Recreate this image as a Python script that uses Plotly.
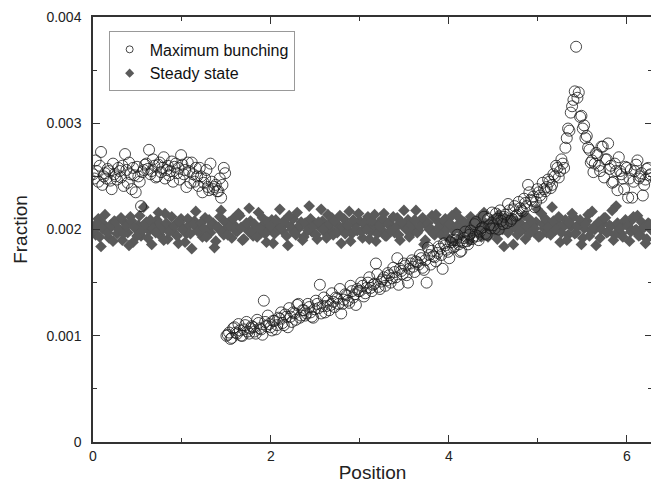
import plotly.graph_objects as go

SCALE = 1e-3  # values below are in units of 1e-3

# sampling positions (first pass)
position = [
    0.00, 0.03, 0.06, 0.09, 0.12, 0.15, 0.18, 0.21, 0.24, 0.27,
    0.30, 0.33, 0.36, 0.39, 0.42, 0.45, 0.48, 0.51, 0.54, 0.57,
    0.60, 0.63, 0.66, 0.69, 0.72, 0.75, 0.78, 0.81, 0.84, 0.87,
    0.90, 0.93, 0.96, 0.99, 1.02, 1.05, 1.08, 1.11, 1.14, 1.17,
    1.20, 1.23, 1.26, 1.29, 1.32, 1.35, 1.38, 1.41, 1.44, 1.47,
    1.50, 1.53, 1.56, 1.59, 1.62, 1.65, 1.68, 1.71, 1.74, 1.77,
    1.80, 1.83, 1.86, 1.89, 1.92, 1.95, 1.98, 2.01, 2.04, 2.07,
    2.10, 2.13, 2.16, 2.19, 2.22, 2.25, 2.28, 2.31, 2.34, 2.37,
    2.40, 2.43, 2.46, 2.49, 2.52, 2.55, 2.58, 2.61, 2.64, 2.67,
    2.70, 2.73, 2.76, 2.79, 2.82, 2.85, 2.88, 2.91, 2.94, 2.97,
    3.00, 3.03, 3.06, 3.09, 3.12, 3.15, 3.18, 3.21, 3.24, 3.27,
    3.30, 3.33, 3.36, 3.39, 3.42, 3.45, 3.48, 3.51, 3.54, 3.57,
    3.60, 3.63, 3.66, 3.69, 3.72, 3.75, 3.78, 3.81, 3.84, 3.87,
    3.90, 3.93, 3.96, 3.99, 4.02, 4.05, 4.08, 4.11, 4.14, 4.17,
    4.20, 4.23, 4.26, 4.29, 4.32, 4.35, 4.38, 4.41, 4.44, 4.47,
    4.50, 4.53, 4.56, 4.59, 4.62, 4.65, 4.68, 4.71, 4.74, 4.77,
    4.80, 4.83, 4.86, 4.89, 4.92, 4.95, 4.98, 5.01, 5.04, 5.07,
    5.10, 5.13, 5.16, 5.19, 5.22, 5.25, 5.28, 5.31, 5.34, 5.37,
    5.40, 5.43, 5.46, 5.49, 5.52, 5.55, 5.58, 5.61, 5.64, 5.67,
    5.70, 5.73, 5.76, 5.79, 5.82, 5.85, 5.88, 5.91, 5.94, 5.97,
    6.00, 6.03, 6.06, 6.09, 6.12, 6.15, 6.18, 6.21, 6.24, 6.27,
]

# sampling positions (second, interleaved pass)
position_b = [
    0.015, 0.045, 0.075, 0.105, 0.135, 0.165, 0.195, 0.225, 0.255, 0.285,
    0.315, 0.345, 0.375, 0.405, 0.435, 0.465, 0.495, 0.525, 0.555, 0.585,
    0.615, 0.645, 0.675, 0.705, 0.735, 0.765, 0.795, 0.825, 0.855, 0.885,
    0.915, 0.945, 0.975, 1.005, 1.035, 1.065, 1.095, 1.125, 1.155, 1.185,
    1.215, 1.245, 1.275, 1.305, 1.335, 1.365, 1.395, 1.425, 1.455, 1.485,
    1.515, 1.545, 1.575, 1.605, 1.635, 1.665, 1.695, 1.725, 1.755, 1.785,
    1.815, 1.845, 1.875, 1.905, 1.935, 1.965, 1.995, 2.025, 2.055, 2.085,
    2.115, 2.145, 2.175, 2.205, 2.235, 2.265, 2.295, 2.325, 2.355, 2.385,
    2.415, 2.445, 2.475, 2.505, 2.535, 2.565, 2.595, 2.625, 2.655, 2.685,
    2.715, 2.745, 2.775, 2.805, 2.835, 2.865, 2.895, 2.925, 2.955, 2.985,
    3.015, 3.045, 3.075, 3.105, 3.135, 3.165, 3.195, 3.225, 3.255, 3.285,
    3.315, 3.345, 3.375, 3.405, 3.435, 3.465, 3.495, 3.525, 3.555, 3.585,
    3.615, 3.645, 3.675, 3.705, 3.735, 3.765, 3.795, 3.825, 3.855, 3.885,
    3.915, 3.945, 3.975, 4.005, 4.035, 4.065, 4.095, 4.125, 4.155, 4.185,
    4.215, 4.245, 4.275, 4.305, 4.335, 4.365, 4.395, 4.425, 4.455, 4.485,
    4.515, 4.545, 4.575, 4.605, 4.635, 4.665, 4.695, 4.725, 4.755, 4.785,
    4.815, 4.845, 4.875, 4.905, 4.935, 4.965, 4.995, 5.025, 5.055, 5.085,
    5.115, 5.145, 5.175, 5.205, 5.235, 5.265, 5.295, 5.325, 5.355, 5.385,
    5.415, 5.445, 5.475, 5.505, 5.535, 5.565, 5.595, 5.625, 5.655, 5.685,
    5.715, 5.745, 5.775, 5.805, 5.835, 5.865, 5.895, 5.925, 5.955, 5.985,
    6.015, 6.045, 6.075, 6.105, 6.135, 6.165, 6.195, 6.225, 6.255,
]

max_bunching = [
    2.52, 2.65, 2.45, 2.73, 2.50, 2.48, 2.55, 2.38, 2.52, 2.47,
    2.55, 2.60, 2.71, 2.44, 2.52, 2.58, 2.35, 2.50, 2.22, 2.56,
    2.62, 2.75, 2.55, 2.60, 2.50, 2.63, 2.58, 2.48, 2.60, 2.55,
    2.45, 2.62, 2.58, 2.70, 2.52, 2.40, 2.55, 2.63, 2.45, 2.50,
    2.58, 2.35, 2.48, 2.40, 2.62, 2.38, 2.42, 2.36, 2.30, 2.58,
    1.00, 1.03, 0.98, 1.08, 1.02, 1.05, 1.00, 1.10, 1.04, 1.07,
    1.08, 1.02, 1.12, 1.06, 1.33, 1.09, 1.11, 1.05, 1.14, 1.10,
    1.16, 1.12, 1.20, 1.08, 1.18, 1.22, 1.15, 1.30, 1.19, 1.24,
    1.21, 1.27, 1.18, 1.25, 1.30, 1.48, 1.28, 1.22, 1.33, 1.29,
    1.32, 1.36, 1.30, 1.21, 1.34, 1.38, 1.31, 1.42, 1.39, 1.44,
    1.42, 1.47, 1.40, 1.50, 1.45, 1.48, 1.68, 1.46, 1.51, 1.55,
    1.52, 1.57, 1.54, 1.60, 1.73, 1.63, 1.58, 1.66, 1.50, 1.68,
    1.65, 1.70, 1.67, 1.73, 1.62, 1.50, 1.76, 1.80, 1.74, 1.78,
    1.82, 1.63, 1.85, 1.79, 1.88, 1.83, 1.90, 1.86, 1.80, 1.92,
    1.89, 1.95, 1.91, 2.05, 1.94, 1.98, 2.02, 1.96, 2.10, 2.01,
    2.04, 2.15, 2.00, 2.08, 2.12, 2.06, 2.18, 2.10, 2.22, 2.14,
    2.20, 2.17, 2.25, 2.42, 2.28, 2.31, 2.26, 2.35, 2.30, 2.38,
    2.40, 2.45, 2.42, 2.50, 2.58, 2.55, 2.62, 2.77, 2.95, 3.10,
    3.22, 3.72, 3.29, 3.07, 2.98, 2.88, 2.75, 2.65, 2.62, 2.70,
    2.55, 2.78, 2.66, 2.81, 2.60, 2.45, 2.55, 2.68, 2.52, 2.38,
    2.58, 2.48, 2.30, 2.55, 2.65, 2.50, 2.32, 2.47, 2.58, 2.52,
]

max_bunching_b = [
    2.48, 2.55, 2.60, 2.42, 2.53, 2.57, 2.46, 2.62, 2.50, 2.58,
    2.49, 2.41, 2.56, 2.63, 2.38, 2.51, 2.59, 2.45, 2.54, 2.61,
    2.57, 2.52, 2.66, 2.49, 2.61, 2.54, 2.68, 2.56, 2.51, 2.64,
    2.59, 2.53, 2.47, 2.61, 2.56, 2.63, 2.44, 2.52, 2.58, 2.41,
    2.50, 2.44, 2.56, 2.37, 2.45, 2.40, 2.36, 2.48, 2.42, 2.53,
    1.01, 0.97, 1.07, 1.03, 1.11, 1.00, 1.06, 1.13, 1.02, 1.09,
    1.04, 1.15, 1.07, 1.01, 1.13, 1.19, 1.08, 1.14, 1.06, 1.17,
    1.22, 1.10, 1.18, 1.26, 1.13, 1.21, 1.29, 1.17, 1.24, 1.19,
    1.30, 1.22, 1.17, 1.33, 1.26, 1.21, 1.36, 1.28, 1.24, 1.40,
    1.27, 1.35, 1.44, 1.30, 1.39, 1.33, 1.47, 1.36, 1.29, 1.42,
    1.50, 1.37, 1.45, 1.55, 1.42, 1.49, 1.58, 1.44, 1.53, 1.47,
    1.59, 1.50, 1.64, 1.55, 1.48, 1.61, 1.68, 1.57, 1.63, 1.71,
    1.60, 1.69, 1.76, 1.64, 1.71, 1.83, 1.67, 1.75, 1.70, 1.84,
    1.76, 1.87, 1.81, 1.73, 1.90, 1.84, 1.95, 1.79, 1.88, 1.98,
    1.86, 1.99, 1.93, 2.07, 1.90, 2.01, 2.12, 1.95, 2.04, 2.16,
    2.01, 2.10, 2.18, 2.05, 2.14, 2.24, 2.08, 2.19, 2.13, 2.26,
    2.18, 2.29, 2.22, 2.35, 2.27, 2.21, 2.38, 2.32, 2.44, 2.36,
    2.47, 2.39, 2.52, 2.60, 2.49, 2.66, 2.58, 2.86, 2.93, 3.16,
    3.30, 3.24, 3.06, 2.95, 2.86, 2.77, 2.63, 2.54, 2.72, 2.60,
    2.78, 2.49, 2.66, 2.57, 2.44, 2.62, 2.37, 2.55, 2.48, 2.59,
    2.30, 2.56, 2.45, 2.61, 2.48, 2.53, 2.42, 2.57, 2.51,
]

steady_state = [
    2.02, 1.95, 2.10, 1.84, 2.05, 1.98, 1.92, 2.03, 2.08, 1.96,
    2.00, 1.90, 2.06, 1.97, 2.12, 1.88, 2.01, 2.04, 1.94, 2.21,
    2.07, 1.99, 1.86, 2.03, 2.09, 1.95, 2.00, 2.15, 1.91, 2.02,
    1.98, 2.05, 1.87, 2.10, 2.01, 1.96, 2.04, 1.82, 2.08, 1.99,
    2.03, 1.93, 2.11, 2.00, 1.97, 2.06, 1.89, 2.02, 2.18, 1.95,
    2.01, 2.07, 1.92, 2.04, 1.98, 2.13, 1.90, 2.03, 1.99, 2.08,
    1.94, 2.02, 2.16, 1.97, 2.05, 1.88, 2.00, 2.09, 1.96, 2.04,
    2.19, 1.99, 2.06, 1.85, 2.03, 2.10, 1.95, 2.01, 2.07, 1.93,
    2.04, 2.22, 1.98, 2.05, 1.91, 2.02, 2.08, 1.97, 2.14, 2.00,
    1.95, 2.06, 2.03, 1.87, 2.10, 2.01, 2.17, 1.96, 2.05, 1.99,
    2.08, 1.92, 2.04, 2.12, 1.98, 2.02, 1.89, 2.06, 2.00, 2.15,
    1.94, 2.07, 2.03, 1.97, 2.11, 1.90, 2.05, 2.01, 2.09, 1.96,
    2.02, 2.18, 1.99, 2.06, 1.86, 2.04, 2.00, 2.13, 1.95, 2.08,
    1.98, 2.03, 2.10, 1.92, 2.05, 1.99, 2.16, 2.01, 1.94, 2.07,
    2.02, 1.89, 2.09, 2.04, 1.97, 2.12, 2.00, 2.06, 1.93, 2.03,
    2.08, 1.96, 2.14, 2.01, 1.84, 2.05, 1.99, 2.10, 2.02, 1.95,
    2.06, 2.00, 1.91, 2.11, 2.03, 1.98, 2.07, 1.93, 2.15, 2.01,
    1.97, 2.04, 2.21, 1.99, 2.06, 1.88, 2.02, 2.09, 1.95, 2.03,
    2.12, 1.97, 2.05, 1.86, 2.01, 2.08, 1.94, 2.17, 2.00, 2.04,
    1.92, 2.06, 2.11, 1.98, 2.03, 1.90, 2.22, 2.01, 1.96, 2.07,
    2.04, 1.89, 2.09, 1.99, 2.13, 1.95, 2.02, 1.87, 2.06, 2.00,
]

steady_state_b = [
    1.99, 2.06, 1.93, 2.01, 2.14, 1.97, 2.04, 1.89, 2.07, 2.00,
    2.11, 1.96, 2.03, 1.85, 2.08, 2.02, 1.94, 2.13, 1.99, 2.05,
    1.92, 2.09, 2.01, 1.97, 2.16, 2.04, 1.90, 2.06, 1.98, 2.12,
    2.03, 1.94, 2.07, 2.00, 1.88, 2.10, 1.96, 2.05, 2.17, 1.99,
    2.06, 2.01, 1.93, 2.09, 2.04, 1.83, 2.02, 2.12, 1.97, 2.07,
    1.95, 2.03, 2.10, 1.99, 2.15, 2.02, 1.91, 2.06, 2.20, 1.98,
    2.05, 1.93, 2.01, 2.11, 1.96, 2.07, 2.03, 1.87, 2.09, 2.00,
    2.02, 2.08, 1.94, 2.13, 2.00, 1.97, 2.16, 2.04, 1.90, 2.06,
    1.99, 2.10, 2.03, 1.95, 2.07, 2.19, 2.01, 1.92, 2.05, 2.11,
    2.08, 1.97, 2.13, 2.02, 1.96, 2.04, 1.89, 2.09, 2.01, 2.15,
    1.98, 2.06, 2.00, 1.91, 2.08, 2.14, 1.96, 2.03, 2.10, 1.94,
    2.05, 1.99, 2.12, 2.02, 1.95, 2.07, 2.18, 2.00, 1.93, 2.04,
    2.09, 1.97, 2.03, 2.11, 1.90, 2.06, 2.01, 1.96, 2.14, 2.02,
    1.95, 2.08, 2.00, 2.05, 2.13, 1.88, 2.04, 2.10, 1.99, 2.06,
    2.01, 2.12, 1.96, 2.07, 2.02, 1.93, 2.16, 2.03, 1.98, 2.09,
    2.04, 1.91, 2.06, 2.00, 2.11, 1.97, 2.05, 1.86, 2.08, 2.02,
    1.99, 2.13, 2.03, 1.96, 2.07, 2.01, 2.19, 1.94, 2.05, 2.10,
    2.02, 1.95, 2.08, 2.00, 2.12, 1.97, 2.04, 1.90, 2.06, 2.15,
    1.96, 2.03, 2.09, 1.92, 2.05, 2.14, 1.99, 2.02, 1.85, 2.07,
    2.00, 2.11, 1.97, 2.04, 2.18, 1.95, 2.06, 2.01, 1.93, 2.09,
    2.03, 1.98, 2.12, 2.00, 1.94, 2.07, 2.02, 1.91, 2.05,
]

x_ticks = [0, 2, 4, 6]
x_tick_labels = ["0", "2", "4", "6"]
y_ticks = [0, 0.001, 0.002, 0.003, 0.004]
y_tick_labels = ["0", "0.001", "0.002", "0.003", "0.004"]

FONT = "Liberation Sans, Arial, Helvetica, sans-serif"
CIRCLE_COLOR = "#1a1a1a"
DIAMOND_COLOR = "#5a5a5a"

fig = go.Figure()
# data traces (steady state beneath, circles on top)
fig.add_trace(go.Scatter(
    x=position + position_b,
    y=[v * SCALE for v in steady_state + steady_state_b],
    mode="markers", name="Steady state", showlegend=False,
    marker=dict(symbol="diamond", size=9, color=DIAMOND_COLOR, line=dict(width=0)),
))
fig.add_trace(go.Scatter(
    x=position + position_b,
    y=[v * SCALE for v in max_bunching + max_bunching_b],
    mode="markers", name="Maximum bunching", showlegend=False,
    marker=dict(symbol="circle-open", size=11, color=CIRCLE_COLOR, line=dict(width=0.8)),
))
# legend entries with small symbols, as in the reference
fig.add_trace(go.Scatter(
    x=[None], y=[None], mode="markers", name="Maximum bunching",
    marker=dict(symbol="circle-open", size=7, color=CIRCLE_COLOR, line=dict(width=0.8)),
))
fig.add_trace(go.Scatter(
    x=[None], y=[None], mode="markers", name="Steady state",
    marker=dict(symbol="diamond", size=7, color=DIAMOND_COLOR, line=dict(width=0)),
))

axis_common = dict(
    showline=True, linecolor="#333", linewidth=1.5, mirror="ticks",
    ticks="inside", ticklen=7, tickwidth=1, tickcolor="#333",
    showgrid=False, zeroline=False,
    tickfont=dict(family=FONT, size=14, color="#222"),
)

fig.update_xaxes(
    range=[0, 6.2832], tickvals=x_ticks, ticktext=x_tick_labels,
    title=dict(text="Position", font=dict(family=FONT, size=19, color="#222"), standoff=3),
    minor=dict(ticks="inside", ticklen=4, tickcolor="#333", dtick=1, tick0=0),
    **axis_common,
)
fig.update_yaxes(
    range=[0, 0.004], tickvals=y_ticks, ticktext=y_tick_labels,
    ticklabelstandoff=7,
    title=dict(text="Fraction", font=dict(family=FONT, size=19, color="#222"), standoff=14),
    minor=dict(ticks="inside", ticklen=4, tickcolor="#333", dtick=0.0005, tick0=0),
    **axis_common,
)

fig.update_layout(
    width=651, height=477,
    margin=dict(l=85, r=7, t=9, b=43, autoexpand=False),
    paper_bgcolor="white", plot_bgcolor="white",
    showlegend=True,
    legend=dict(
        x=0.028, y=0.966, xanchor="left", yanchor="top",
        bgcolor="white", bordercolor="#999", borderwidth=1,
        font=dict(family=FONT, size=16, color="#111"),
        itemwidth=30, tracegroupgap=0,
    ),
)

fig.write_html("out.html")
